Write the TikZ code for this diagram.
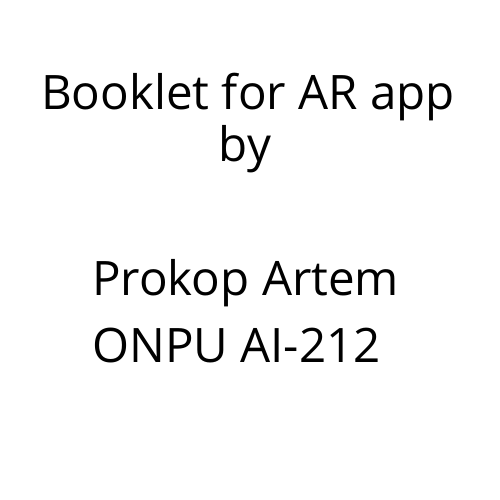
\documentclass[tikz,border=0pt]{standalone}
\usepackage{fontspec}
\setmainfont{Open Sans}
\usepackage{tikz}

\begin{document}
\begin{tikzpicture}[x=1pt, y=1pt, txt/.style={inner sep=0pt, font=\fontsize{47.5}{52}\selectfont}]
    \useasboundingbox (0,0) rectangle (500,500);
    % Title
    \node[txt, anchor=base] (title) at (248,390) {Booklet for AR app};
    \node[txt, anchor=base] (by) at (245,338) {by};
    % Author
    \node[txt, anchor=base west] (name) at (92,204) {Prokop Artem};
    \node[txt, anchor=base west] (group) at (92,137) {ONPU AI-212};
\end{tikzpicture}
\end{document}
